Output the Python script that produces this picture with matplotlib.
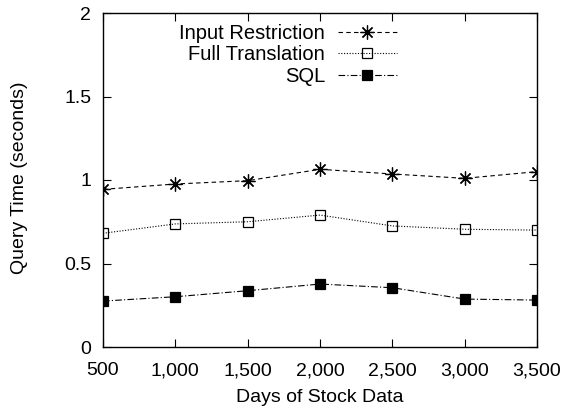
import numpy as np
import matplotlib
matplotlib.use('Agg')
import matplotlib.pyplot as plt

plt.rcParams['font.family'] = ['Liberation Sans', 'DejaVu Sans']

days = [500, 1000, 1500, 2000, 2500, 3000, 3500]
input_restriction = [0.944, 0.976, 0.996, 1.064, 1.036, 1.010, 1.050]
full_translation = [0.681, 0.737, 0.750, 0.790, 0.725, 0.705, 0.700]
sql = [0.275, 0.301, 0.337, 0.377, 0.355, 0.287, 0.281]
xticks = [500, 1000, 1500, 2000, 2500, 3000, 3500]
xticklabels = ['500', '1,000', '1,500', '2,000', '2,500', '3,000', '3,500']
yticks = [0, 0.5, 1, 1.5, 2]
yticklabels = ['0', '0.5', '1', '1.5', '2']

W, H = 564, 412
fig = plt.figure(figsize=(W/100, H/100), dpi=100)
ax = fig.add_axes([103/W, 1-347/H, 434/W, 334/H])

# gnuplot-style "*" marker: + and x combined
ax.plot(days, input_restriction, color='black', lw=0.8, ls=(0, (4, 3)),
        marker=(8, 2, 0), ms=10, mew=0.9, label='Input Restriction')
ax.plot(days, full_translation, color='black', lw=0.8, ls=(0, (1, 1.5)),
        marker='s', ms=7, mfc='none', mew=0.9, label='Full Translation')
ax.plot(days, sql, color='black', lw=0.8, ls=(0, (6, 2, 1, 2)),
        marker='s', ms=7.5, mfc='black', mew=0.9, label='SQL')

ax.set_xlim(500, 3500)
ax.set_ylim(0, 2)
ax.set_xticks(xticks)
ax.set_xticklabels(xticklabels)
ax.set_yticks(yticks)
ax.set_yticklabels(yticklabels)
ax.tick_params(direction='in', top=True, right=True, length=6, width=0.8, labelsize=14)
ax.tick_params(axis='x', pad=11)
ax.tick_params(axis='y', pad=8.5)
for s in ax.spines.values():
    s.set_linewidth(1.0)

ax.set_xlabel('Days of Stock Data', fontsize=14, va='center')
ax.xaxis.set_label_coords(320/W, 1-398/H, transform=fig.transFigure)
ax.set_ylabel('Query Time (seconds)', fontsize=14, va='center')
ax.yaxis.set_label_coords(20/W, 1-178/H, transform=fig.transFigure)

leg = ax.legend(loc='upper right', bbox_to_anchor=(397/W, 1-24/H), bbox_transform=fig.transFigure,
                frameon=False, markerfirst=False, fontsize=14.5, handlelength=2.93,
                labelspacing=0.12, handletextpad=0.65, borderpad=0, borderaxespad=0)
for t in leg.get_texts():
    t.set_ha('right')

fig.savefig('out.png', dpi=100)
